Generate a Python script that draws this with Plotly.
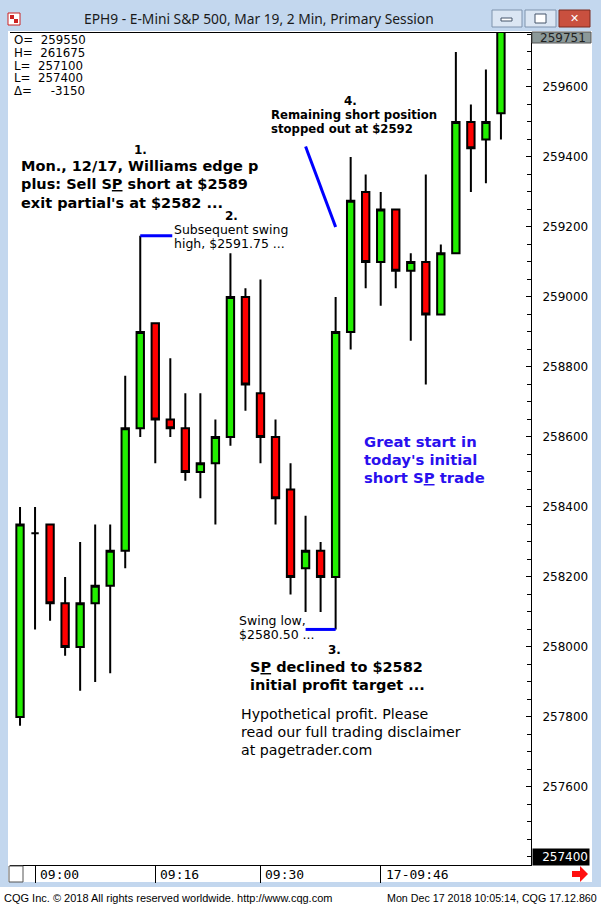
import plotly.graph_objects as go

W, H = 601, 909

# 2-minute bars, E-Mini S&P 500 (EPH9), Mon Dec 17 2018
times = ["08:58", "09:00", "09:02", "09:04", "09:06", "09:08", "09:10", "09:12",
         "09:14", "09:16", "09:18", "09:20", "09:22", "09:24", "09:26", "09:28",
         "09:30", "09:32", "09:34", "09:36", "09:38", "09:40", "09:42", "09:44",
         "09:46", "09:48", "09:50", "09:52", "09:54", "09:56", "09:58", "10:00",
         "10:02"]
opens = [257800, 258325, 258350, 258125, 258000, 258125, 258175, 258275,
         258625, 258925, 258650, 258625, 258500, 258525, 258600, 259000,
         258725, 258600, 258450, 258225, 258275, 258200, 258900, 259300,
         259100, 259250, 259075, 259100, 258950, 259125, 259500, 259450,
         259525]
highs = [258400, 258400, 258350, 258200, 258300, 258350, 258350, 258775,
         259175, 258925, 258825, 258725, 258725, 258650, 259125, 259025,
         259050, 258650, 258525, 258375, 258300, 259000, 259400, 259350,
         259300, 259250, 259125, 259350, 259150, 259700, 259550, 259650,
         259775]
lows = [257775, 258050, 258075, 257975, 257875, 257900, 257925, 258225,
        258600, 258525, 258600, 258475, 258425, 258350, 258575, 258675,
        258525, 258350, 258150, 258100, 258100, 258050, 258850, 259025,
        258975, 259025, 258875, 258750, 258950, 259125, 259300, 259325,
        259450]
closes = [258350, 258325, 258125, 258000, 258125, 258175, 258275, 258625,
          258900, 258650, 258625, 258500, 258525, 258600, 259000, 258750,
          258600, 258425, 258200, 258275, 258200, 258900, 259275, 259100,
          259250, 259075, 259100, 258950, 259125, 259500, 259425, 259500,
          259775]

price_ticks = [257600, 257800, 258000, 258200, 258400, 258600, 258800,
               259000, 259200, 259400, 259600]
time_ticks = ["09:00", "09:16", "09:30", "09:46"]
time_labels = ["09:00", "09:16", "09:30", "17-09:46"]

info_lines = ["O=  259550", "H=  261675", "L=  257100", "L=  257400", "\u0394=     -3150"]
top_price = "259751"
last_price = "257400"

Y_RANGE = [257377, 259754]
X_RANGE = [-0.667, 34]


def px(x):
    return x / W


def py(y):
    return 1 - y / H


fig = go.Figure()
fig.add_trace(go.Candlestick(
    x=times, open=opens, high=highs, low=lows, close=closes,
    increasing=dict(fillcolor="#22ee00", line=dict(color="black", width=2)),
    decreasing=dict(fillcolor="#ff0000", line=dict(color="black", width=2)),
    whiskerwidth=0, showlegend=False, hoverinfo="x+y",
))

shapes = [
    # chart window interior + footer strip
    dict(type="rect", xref="paper", yref="paper", x0=px(8), x1=px(592),
         y0=py(882), y1=py(31), fillcolor="white", line=dict(width=0), layer="below"),
    dict(type="rect", xref="paper", yref="paper", x0=0, x1=1,
         y0=0, y1=py(887), fillcolor="white", line=dict(width=0), layer="below"),
    # title bar buttons
    dict(type="rect", xref="paper", yref="paper", x0=px(492), x1=px(522),
         y0=py(27), y1=py(10), fillcolor="#dbe6f3", line=dict(color="#7f93ad", width=1)),
    dict(type="rect", xref="paper", yref="paper", x0=px(525), x1=px(556),
         y0=py(27), y1=py(10), fillcolor="#dbe6f3", line=dict(color="#7f93ad", width=1)),
    dict(type="rect", xref="paper", yref="paper", x0=px(559), x1=px(590),
         y0=py(27), y1=py(10), fillcolor="#c9503f", line=dict(color="#7a2a20", width=1)),
    dict(type="rect", xref="paper", yref="paper", x0=px(501), x1=px(512),
         y0=py(21), y1=py(18), fillcolor="white", line=dict(color="#44556a", width=1)),
    dict(type="rect", xref="paper", yref="paper", x0=px(535), x1=px(546),
         y0=py(23), y1=py(14), fillcolor="white", line=dict(color="#44556a", width=1)),
    # window icon
    dict(type="rect", xref="paper", yref="paper", x0=px(8), x1=px(20),
         y0=py(25), y1=py(13), fillcolor="white", line=dict(color="#cc2222", width=1)),
    dict(type="rect", xref="paper", yref="paper", x0=px(10), x1=px(14),
         y0=py(19), y1=py(15), fillcolor="#cc2222", line=dict(width=0)),
    dict(type="rect", xref="paper", yref="paper", x0=px(14), x1=px(18),
         y0=py(23), y1=py(19), fillcolor="#cc2222", line=dict(width=0)),
    # value box at top of price scale
    dict(type="rect", xref="paper", yref="paper", x0=px(532), x1=px(591),
         y0=py(43), y1=py(32), fillcolor="#8c9999", line=dict(color="#555", width=1)),
    # little box bottom-left of time scale
    dict(type="rect", xref="paper", yref="paper", x0=px(9), x1=px(23),
         y0=py(882), y1=py(866), fillcolor="white", line=dict(color="#555", width=1)),
    # red arrow bottom-right
    dict(type="path", xref="paper", yref="paper",
         path=f"M {px(572)} {py(871)} L {px(580)} {py(871)} L {px(580)} {py(866)} "
              f"L {px(588)} {py(874)} L {px(580)} {py(882)} L {px(580)} {py(877)} "
              f"L {px(572)} {py(877)} Z",
         fillcolor="#ff1010", line=dict(width=0)),
    # swing high marker
    dict(type="line", x0=8, x1=10.13, y0=highs[8], y1=highs[8],
         line=dict(color="#0000ff", width=3)),
    # swing low marker
    dict(type="line", x0=19, x1=21, y0=lows[21], y1=lows[21],
         line=dict(color="#0000ff", width=3)),
    # pointer to stop-out bar
    dict(type="line", x0=19, x1=21, y0=259430, y1=259200,
         line=dict(color="#0000ff", width=3)),
]

annotations = []


def add_text(lines, x, y, pitch, size, bold=False, color="black",
             family="DejaVu Sans", xanchor="left"):
    for i, t in enumerate(lines):
        annotations.append(dict(
            text=f"<b>{t}</b>" if bold else t, xref="paper", yref="paper",
            x=px(x), y=py(y + i * pitch), xanchor=xanchor, yanchor="middle",
            showarrow=False, font=dict(family=family, size=size, color=color),
        ))


# window title, close glyph and footer
add_text(["EPH9 - E-Mini S&P 500, Mar 19, 2 Min, Primary Session"], 259, 19, 0, 13.8,
         family="Noto Sans", xanchor="center", color="#1a1a1a")
add_text(["\u2715"], 574.5, 18.5, 0, 11, bold=True, xanchor="center", color="white")
add_text(["CQG Inc. \u00a9 2018 All rights reserved worldwide. http://www.cqg.com"], 2, 898, 0, 11,
         family="Liberation Sans")
add_text(["Mon Dec 17 2018 10:05:14, CQG 17.12.860"], 599, 898, 0, 10.7,
         family="Liberation Sans", xanchor="right")

# OHLC summary box
add_text(info_lines, 12, 40, 12.8, 11.8)

# price scale boxes
add_text([top_price], 588, 38, 0, 12, xanchor="right", color="#222")
annotations.append(dict(
    text=last_price, xref="paper", y=int(last_price), yref="y", x=px(590), xanchor="right",
    showarrow=False, bgcolor="black", font=dict(family="DejaVu Sans", size=12, color="white"),
    borderpad=1, width=54, align="right",
))

# time scale labels, placed to the right of their ticks
for t, lab in zip(time_ticks, time_labels):
    annotations.append(dict(
        text=lab, x=times.index(t), xref="x", xshift=3, y=py(874), yref="paper",
        xanchor="left", yanchor="middle", showarrow=False,
        font=dict(family="DejaVu Sans Mono", size=13, color="black"),
    ))

# commentary
add_text(["1."], 140, 150, 0, 12, bold=True, xanchor="center")
add_text(["Mon., 12/17, Williams edge p", "plus: Sell S<u>P</u> short at $2589",
          "exit partial's at $2582 ..."], 19, 166, 18.5, 14.5, bold=True)
add_text(["2."], 231, 216, 0, 12, bold=True, xanchor="center")
add_text(["Subsequent swing", "high, $2591.75 ..."], 172, 229, 14, 12.5)
add_text(["4."], 350, 101, 0, 12, bold=True, xanchor="center")
add_text(["Remaining short position", "stopped out at $2592"], 269, 115, 14, 11.7, bold=True)
add_text(["Great start in", "today's initial", "short S<u>P</u> trade"], 362, 441, 18, 14.8,
         bold=True, color="#2a10ee")
add_text(["Swing low,", "$2580.50 ..."], 237, 620, 14, 12.5)
add_text(["3."], 335, 650, 0, 12, bold=True, xanchor="center")
add_text(["S<u>P</u> declined to $2582", "initial profit target ..."], 248, 667, 18, 14.5,
         bold=True)
add_text(["Hypothetical profit. Please", "read our full trading disclaimer",
          "at pagetrader.com"], 239, 714, 18, 14.2)

dom_y = [py(865), py(33)]
fig.update_layout(
    width=W, height=H, margin=dict(l=0, r=0, t=0, b=0),
    paper_bgcolor="#c3d7ee", plot_bgcolor="#fbfffb",
    showlegend=False, shapes=shapes, annotations=annotations,
    font=dict(family="DejaVu Sans", size=12, color="black"),
    xaxis=dict(
        type="category", domain=[px(10), px(531)], range=X_RANGE,
        rangeslider=dict(visible=False), showgrid=False, zeroline=False,
        showline=True, linecolor="black", linewidth=1, mirror=True,
        tickmode="array", tickvals=time_ticks, ticks="outside", ticklen=17,
        tickcolor="black", tickwidth=1, showticklabels=False,
    ),
    yaxis=dict(
        domain=dom_y, range=Y_RANGE, side="right", showgrid=False, zeroline=False,
        showline=True, linecolor="black", linewidth=1,
        tickmode="array", tickvals=price_ticks, ticks="inside", ticklen=5,
        tickcolor="black", ticklabelstandoff=8, tickformat="d",
        minor=dict(dtick=50, tick0=257400, ticks="inside", ticklen=4, tickcolor="black"),
        tickfont=dict(family="DejaVu Sans", size=12),
    ),
    yaxis2=dict(
        domain=dom_y, range=Y_RANGE, overlaying="y", side="left", showgrid=False,
        zeroline=False, showline=True, linecolor="black", linewidth=1,
        dtick=100, tick0=257400, ticks="inside", ticklen=6, tickcolor="black",
        showticklabels=False,
        minor=dict(dtick=25, tick0=257400, ticks="inside", ticklen=3, tickcolor="black"),
    ),
)

# the default page adds an 8px body margin; drop it so the figure fills the window
fig.write_html("out.html", config={"displayModeBar": False},
               post_script="document.body.style.margin = '0';")
